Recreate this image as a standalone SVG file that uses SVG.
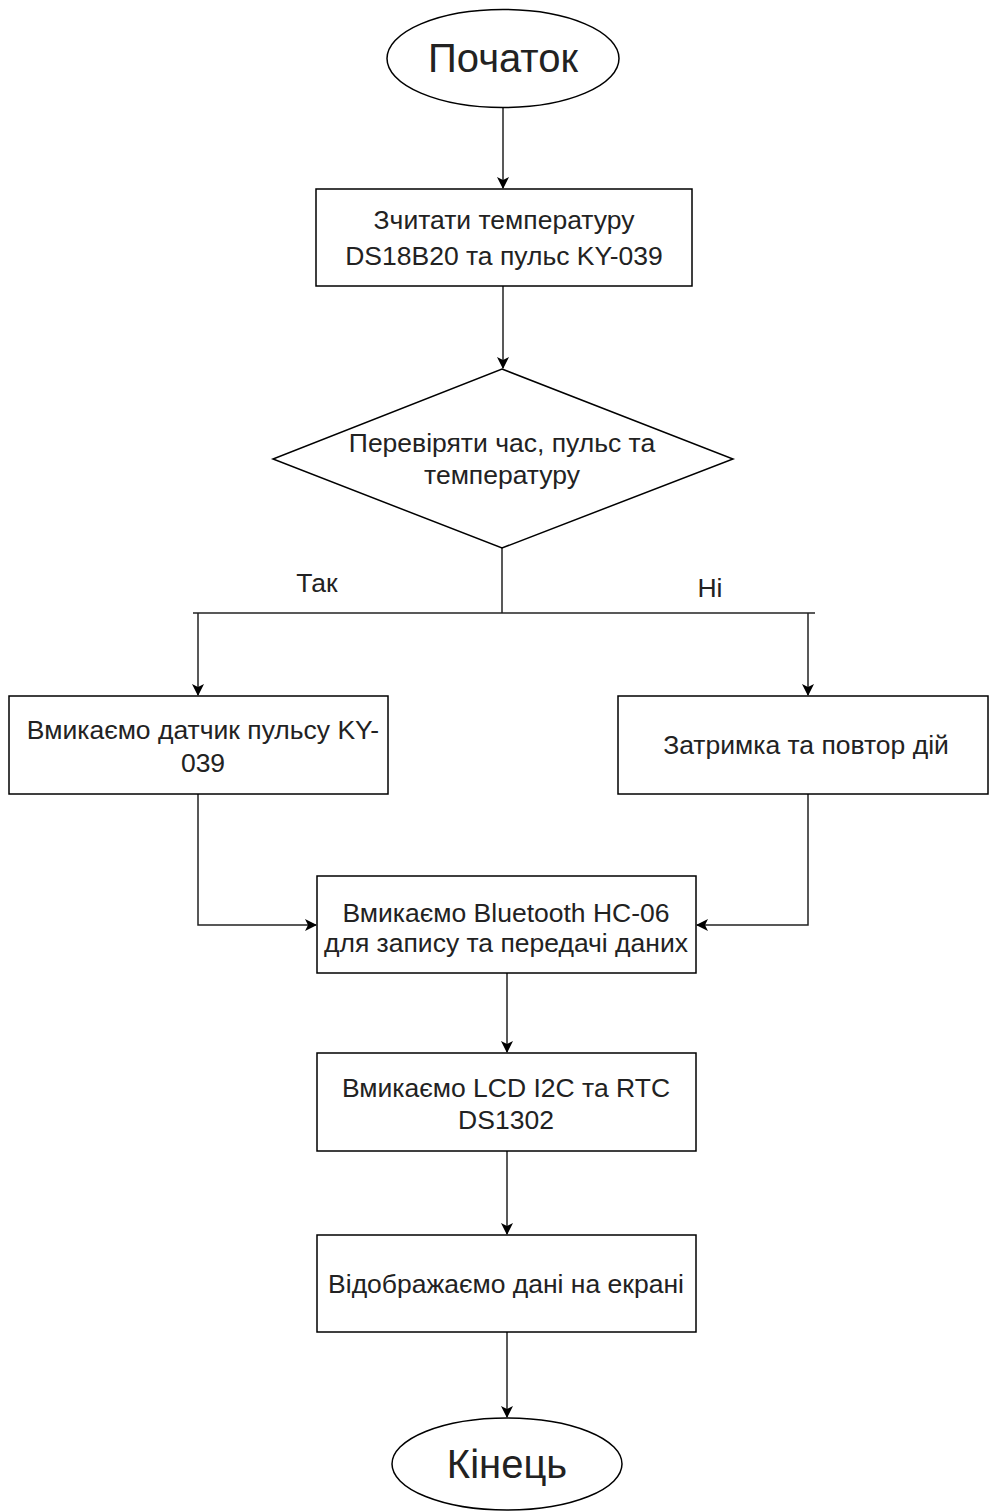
<svg xmlns="http://www.w3.org/2000/svg" width="989" height="1512" viewBox="0 0 989 1512">
<style>
.n{fill:#fff;stroke:#000;stroke-width:1.5}
.t{font-family:"Liberation Sans",Arial,sans-serif;font-size:26.5px;fill:#222;text-anchor:middle;dominant-baseline:central}
.b{font-size:40px}
.c{fill:none;stroke:#222;stroke-width:1.5}
</style>
<defs>
<marker id="a" viewBox="0 0 12 12" refX="11" refY="6" markerWidth="12" markerHeight="12" markerUnits="userSpaceOnUse" orient="auto">
<path d="M0,0 L12,6 L0,12 L3,6 z" fill="#000"/>
</marker>
</defs>
<rect width="989" height="1512" fill="#fff"/>
<g id="connectors">
<path class="c" d="M503,108 V188" marker-end="url(#a)"/>
<path class="c" d="M503,286 V368" marker-end="url(#a)"/>
<path class="c" d="M502,548 V613"/>
<path class="c" d="M193,613 H815"/>
<path class="c" d="M198,613 V695" marker-end="url(#a)"/>
<path class="c" d="M808,613 V695" marker-end="url(#a)"/>
<path class="c" d="M198,794 V925 H316" marker-end="url(#a)"/>
<path class="c" d="M808,794 V925 H697" marker-end="url(#a)"/>
<path class="c" d="M507,973 V1052" marker-end="url(#a)"/>
<path class="c" d="M507,1151 V1234" marker-end="url(#a)"/>
<path class="c" d="M507,1332 V1417" marker-end="url(#a)"/>
</g>
<g id="start">
<ellipse class="n" cx="503" cy="58.5" rx="116" ry="49"/>
<text class="t b" x="503" y="58">Початок</text>
</g>
<g id="read">
<rect class="n" x="316" y="189" width="376" height="97"/>
<text class="t" x="504" y="220">Зчитати температуру</text>
<text class="t" x="504" y="256">DS18B20 та пульс KY-039</text>
</g>
<g id="check">
<polygon class="n" points="502,369 733,459 502,548 273,459"/>
<text class="t" x="502" y="443">Перевіряти час, пульс та</text>
<text class="t" x="502" y="475">температуру</text>
</g>
<g id="labels">
<text class="t" x="317" y="583">Так</text>
<text class="t" x="710" y="588">Ні</text>
</g>
<g id="sensor">
<rect class="n" x="9" y="696" width="379" height="98"/>
<text class="t" x="203" y="730">Вмикаємо датчик пульсу KY-</text>
<text class="t" x="203" y="763">039</text>
</g>
<g id="delay">
<rect class="n" x="618" y="696" width="370" height="98"/>
<text class="t" x="806" y="745">Затримка та повтор дій</text>
</g>
<g id="bluetooth">
<rect class="n" x="317" y="876" width="379" height="97"/>
<text class="t" x="506" y="913">Вмикаємо Bluetooth HC-06</text>
<text class="t" x="506" y="943">для запису та передачі даних</text>
</g>
<g id="lcd">
<rect class="n" x="317" y="1053" width="379" height="98"/>
<text class="t" x="506" y="1088">Вмикаємо LCD I2C та RTC</text>
<text class="t" x="506" y="1120">DS1302</text>
</g>
<g id="display">
<rect class="n" x="317" y="1235" width="379" height="97"/>
<text class="t" x="506" y="1284">Відображаємо дані на екрані</text>
</g>
<g id="end">
<ellipse class="n" cx="507" cy="1464" rx="115" ry="46"/>
<text class="t b" x="507" y="1464">Кінець</text>
</g>
</svg>
